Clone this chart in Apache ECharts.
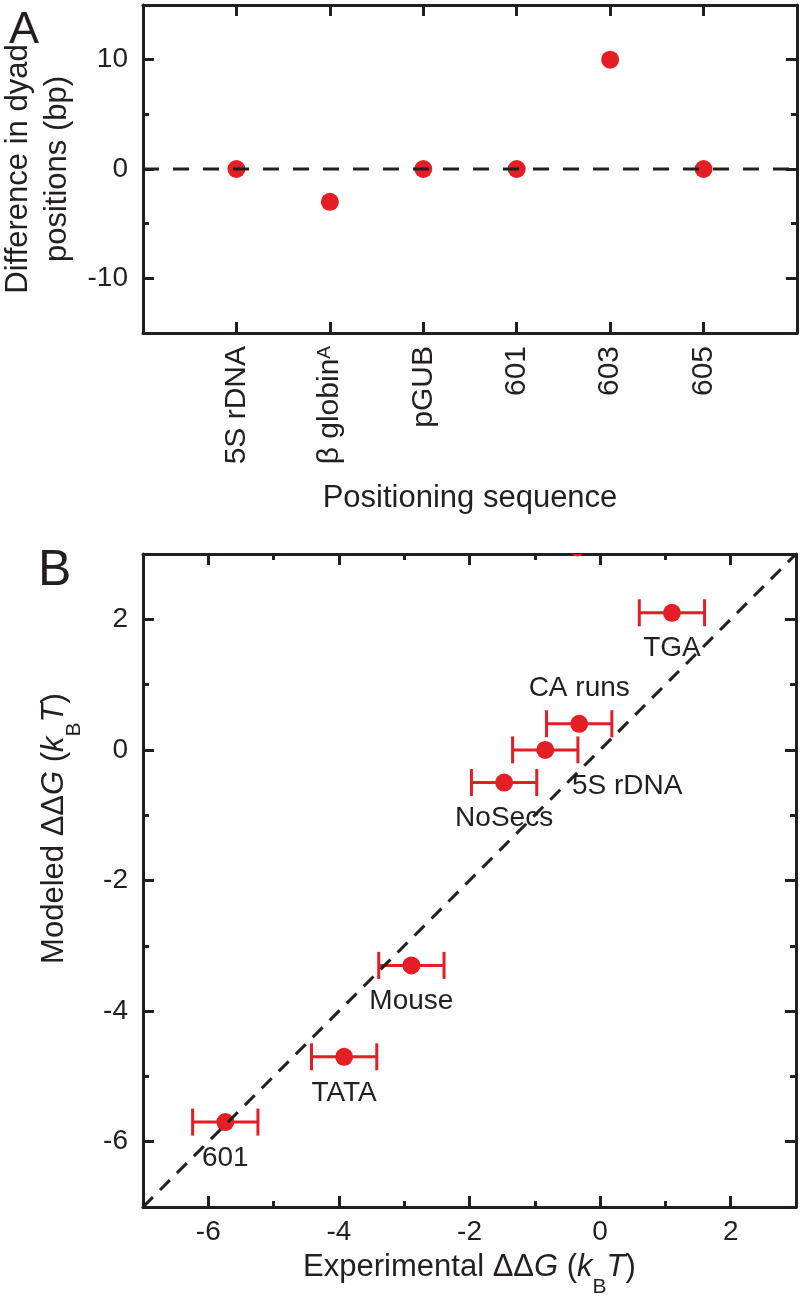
<!DOCTYPE html>
<html><head><meta charset="utf-8">
<script src="https://cdn.jsdelivr.net/npm/echarts@6/dist/echarts.min.js"></script>
<style>html,body{margin:0;padding:0;background:#fff}#c{width:805px;height:1298px}</style>
</head><body><div id="c"></div>
<script>
// ---------- Panel A data ----------
const seqCategories = ['5S rDNA', 'β globin{sup|A}', 'pGUB', '601', '603', '605'];
const seqPositions = [1, 2, 3, 4, 5, 6];
const dyadDiff = [0, -3, 0, 0, 10, 0];
const aYMajor = [-10, 0, 10];
const aYMinor = [-15, -5, 5, 15];
const aRefLine = [[0, 0], [7, 0]];

// ---------- Panel B data ----------
const bNames = ['601', 'TATA', 'Mouse', 'NoSecs', '5S rDNA', 'CA runs', 'TGA'];
const bExperimental = [-5.74, -3.92, -2.89, -1.47, -0.84, -0.32, 1.10];
const bModeled = [-5.7, -4.7, -3.3, -0.5, 0.0, 0.4, 2.1];
const bExpErr = [0.5, 0.5, 0.5, 0.5, 0.5, 0.5, 0.5];
const bOutlier = [[-0.35, 3.1]];
const bMajor = [-6, -4, -2, 0, 2];
const bMinor = [-7, -5, -3, -1, 1, 3];
const bRefLine = [[-7, -7], [3, 3]];

const FONT = '"Liberation Sans", Arial, Helvetica, sans-serif';
const INK = '#231f20';
const RED = '#e31e25';

function axisPair(gridIndex, position, min, max, majors, minors, labelCfg, nameCfg) {
  const common = {
    gridIndex, type: 'value', min, max, position, offset: 0,
    splitLine: { show: false }, minorTick: { show: false }
  };
  const major = Object.assign({}, common, {
    axisLine: { show: true, onZero: false, lineStyle: { color: INK, width: 3 } },
    axisTick: { show: true, inside: true, length: 11, customValues: majors, lineStyle: { color: INK, width: 3 } },
    axisLabel: labelCfg ? Object.assign({ show: true, customValues: majors, color: INK, fontFamily: FONT, fontSize: 28 }, labelCfg) : { show: false }
  }, nameCfg || {});
  const out = [major];
  if (minors && minors.length) {
    out.push(Object.assign({}, common, {
      axisLine: { show: false, onZero: false },
      axisTick: { show: true, inside: true, length: 6, customValues: minors, lineStyle: { color: INK, width: 3 } },
      axisLabel: { show: false }
    }));
  }
  return out;
}

const richName = {
  i: { fontStyle: 'italic', fontSize: 31, fontFamily: FONT, color: INK, lineHeight: 42 },
  n: { fontSize: 31, fontFamily: FONT, color: INK, lineHeight: 42 },
  sub: { fontSize: 21, fontFamily: FONT, color: INK, lineHeight: 1, height: 2, verticalAlign: 'bottom' }
};

const xAxes = [].concat(
  // Panel A bottom (0) and top (1)
  axisPair(0, 'bottom', 0, 7, seqPositions, null, {
    rotate: 90, margin: 13, fontSize: 30,
    formatter: v => seqCategories[seqPositions.indexOf(v)],
    rich: { sup: { fontSize: 19, fontFamily: FONT, color: INK, lineHeight: 12, verticalAlign: 'top' } }
  }, {
    name: 'Positioning sequence', nameLocation: 'middle', nameGap: 150,
    nameTextStyle: { fontSize: 31, fontFamily: FONT, color: INK }
  }),
  axisPair(0, 'top', 0, 7, seqPositions, null, null),
  // Panel B bottom (2,3) and top (4,5)
  axisPair(1, 'bottom', -7, 3, bMajor, bMinor, { margin: 11 }, {
    name: '{n|Experimental ΔΔ}{i|G}{n| (}{i|k}{sub|B}{i|T}{n|)}', nameLocation: 'middle', nameGap: 39,
    nameTextStyle: { fontSize: 31, fontFamily: FONT, color: INK, rich: richName }
  }),
  axisPair(1, 'top', -7, 3, bMajor, bMinor, null)
);

const yAxes = [].concat(
  // Panel A left (0,1), right (2,3)
  axisPair(0, 'left', -15, 15, aYMajor, aYMinor, { margin: 15 }, {
    name: 'Difference in dyad\npositions (bp)', nameLocation: 'middle', nameGap: 58,
    nameTextStyle: { fontSize: 31, fontFamily: FONT, color: INK, lineHeight: 39 }
  }),
  axisPair(0, 'right', -15, 15, aYMajor, aYMinor, null),
  // Panel B left (4,5), right (6,7)
  axisPair(1, 'left', -7, 3, bMajor, bMinor, { margin: 15 }, {
    name: '{n|Modeled ΔΔ}{i|G}{n| (}{i|k}{sub|B}{i|T}{n|)}', nameLocation: 'middle', nameGap: 68,
    nameTextStyle: { fontSize: 31, fontFamily: FONT, color: INK, rich: richName, padding: [0, 0, 0, 104] }
  }),
  axisPair(1, 'right', -7, 3, bMajor, bMinor, null)
);

const labelPlace = {
  'CA runs': { position: 'top', distance: 12 },
  '5S rDNA': { position: 'bottom', distance: 13, offset: [82, 0] }
};

const bScatterData = bNames.map((n, i) => {
  const item = { name: n, value: [bExperimental[i], bModeled[i]] };
  if (labelPlace[n]) item.label = labelPlace[n];
  return item;
});

const option = {
  backgroundColor: '#ffffff',
  animation: false,
  grid: [
    { left: 143, top: 5, width: 654, height: 328, containLabel: false, outerBoundsMode: 'none' },
    { left: 143, top: 554, width: 653, height: 653, containLabel: false, outerBoundsMode: 'none' }
  ],
  xAxis: xAxes,
  yAxis: yAxes,
  graphic: [
    { type: 'text', x: 9, y: 31, style: { text: 'A', font: '45px ' + FONT, fill: INK, verticalAlign: 'middle', align: 'left' } },
    { type: 'text', x: 38, y: 571, style: { text: 'B', font: '50px ' + FONT, fill: INK, verticalAlign: 'middle', align: 'left' } }
  ],
  series: [
    {
      type: 'scatter', xAxisIndex: 0, yAxisIndex: 0, z: 3,
      symbol: 'circle', symbolSize: 18, itemStyle: { color: RED, opacity: 1 },
      data: seqPositions.map((p, i) => [p, dyadDiff[i]])
    },
    {
      type: 'line', xAxisIndex: 0, yAxisIndex: 0, z: 5, symbol: 'none', silent: true,
      lineStyle: { color: INK, width: 3, type: [16, 14] },
      data: aRefLine
    },
    {
      type: 'custom', xAxisIndex: 2, yAxisIndex: 4, z: 2, clip: true,
      data: bNames.map((n, i) => [bExperimental[i] - bExpErr[i], bExperimental[i] + bExpErr[i], bModeled[i]]),
      encode: { x: [0, 1], y: 2 },
      renderItem: function (params, api) {
        const lo = api.coord([api.value(0), api.value(2)]);
        const hi = api.coord([api.value(1), api.value(2)]);
        const h = 13.5;
        const style = { stroke: RED, lineWidth: 3, fill: null };
        return {
          type: 'group', children: [
            { type: 'line', shape: { x1: lo[0], y1: lo[1], x2: hi[0], y2: hi[1] }, style },
            { type: 'line', shape: { x1: lo[0], y1: lo[1] - h, x2: lo[0], y2: lo[1] + h }, style },
            { type: 'line', shape: { x1: hi[0], y1: hi[1] - h, x2: hi[0], y2: hi[1] + h }, style }
          ]
        };
      }
    },
    {
      type: 'custom', xAxisIndex: 2, yAxisIndex: 4, z: 3, clip: true,
      data: bOutlier,
      renderItem: function (params, api) {
        const c = api.coord([api.value(0), api.value(1)]);
        return { type: 'circle', shape: { cx: c[0], cy: c[1], r: 9 }, style: { fill: RED } };
      }
    },
    {
      type: 'scatter', xAxisIndex: 2, yAxisIndex: 4, z: 3,
      symbol: 'circle', symbolSize: 18, itemStyle: { color: RED, opacity: 1 },
      label: { show: true, position: 'bottom', distance: 13, formatter: '{b}', color: INK, opacity: 1, fontFamily: FONT, fontSize: 28 },
      data: bScatterData
    },
    {
      type: 'line', xAxisIndex: 2, yAxisIndex: 4, z: 5, symbol: 'none', silent: true,
      lineStyle: { color: INK, width: 3, type: [14, 10] },
      data: bRefLine
    }
  ]
};

const chart = echarts.init(document.getElementById('c'), null, { renderer: 'canvas' });
chart.setOption(option);
</script>
</body></html>
